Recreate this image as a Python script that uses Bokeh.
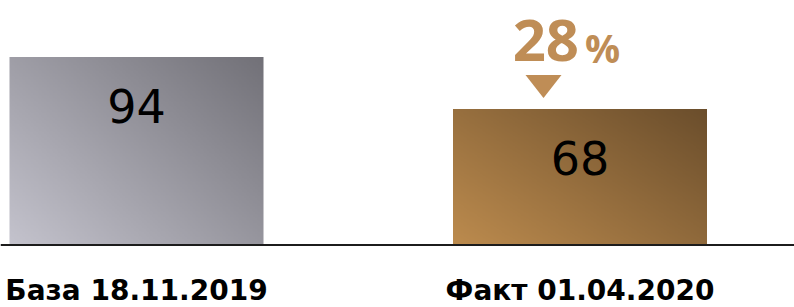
import numpy as np
from bokeh.plotting import figure
from bokeh.models import Range1d, Span
from bokeh.core.properties import value
from bokeh.embed import file_html
from bokeh.resources import INLINE

# ---- data ----
categories = ["База 18.11.2019", "Факт 01.04.2020"]
values = [94, 68]
positions = [0, 1]
change_pct = round((values[0] - values[1]) / values[0] * 100)  # 28 %

# ---- styling constants ----
W, H = 794, 307
PX_PER_CAT = 443.5     # horizontal pixels between bar centres
PX_PER_UNIT = 2.0      # vertical pixels per value unit
BASE_PX = 244.5        # baseline distance from top
FIRST_PX = 136         # first bar centre from left
BAR_W = 254 / PX_PER_CAT
GOLD = "#BF8D56"
grad_light = [(196, 195, 205), (188, 139, 78)]
grad_dark = [(114, 113, 120), (107, 78, 44)]

p = figure(width=W, height=H, output_backend="svg", toolbar_location=None,
           x_range=Range1d(-FIRST_PX / PX_PER_CAT, (W - FIRST_PX) / PX_PER_CAT),
           y_range=Range1d(-(H - BASE_PX) / PX_PER_UNIT, BASE_PX / PX_PER_UNIT),
           min_border=0, outline_line_color=None)
p.axis.visible = False
p.xgrid.visible = False
p.ygrid.visible = False
p.background_fill_color = "white"
p.border_fill_color = "white"

# ---- gradient bars ----
nx, ny = 160, 120
u = np.linspace(0, 1, nx)[None, :]
v = np.linspace(0, 1, ny)[:, None]
t = np.clip((u * 0.55 + v * 0.45), 0, 1)
for i, (xp, val) in enumerate(zip(positions, values)):
    lo, hi = np.array(grad_light[i]), np.array(grad_dark[i])
    rgb = lo[None, None, :] * (1 - t[..., None]) + hi[None, None, :] * t[..., None]
    img = np.empty((ny, nx), dtype=np.uint32)
    view = img.view(dtype=np.uint8).reshape((ny, nx, 4))
    view[..., 0] = rgb[..., 0].astype(np.uint8)
    view[..., 1] = rgb[..., 1].astype(np.uint8)
    view[..., 2] = rgb[..., 2].astype(np.uint8)
    view[..., 3] = 255
    p.image_rgba(image=[img], x=xp - BAR_W / 2, y=0, dw=BAR_W, dh=val)

# baseline
p.add_layout(Span(location=0, dimension="width", line_color="#1c1c1c", line_width=2))

# value labels
p.text(x=positions, y=values, text=[str(v_) for v_ in values],
       text_align="center", text_baseline="middle", y_offset=49,
       text_font=value("DejaVu Sans"), text_font_size="46px", text_color="black")

# category labels
p.text(x=positions, y=[0, 0], text=categories,
       text_align="center", text_baseline="middle", y_offset=45,
       text_font=value("DejaVu Sans"), text_font_size="28px", text_font_style="bold",
       text_color="black")

# change annotation on second bar
xb, vb = positions[1], values[1]
p.text(x=[xb], y=[vb], text=[str(change_pct)], text_align="right",
       text_baseline="middle", x_offset=-1, y_offset=-69,
       text_font=value("Open Sans"), text_font_size="58px", text_font_style="bold",
       text_color=GOLD)
p.text(x=[xb], y=[vb], text=["%"], text_align="left",
       text_baseline="middle", x_offset=5, y_offset=-62,
       text_font=value("Open Sans"), text_font_size="39px", text_font_style="bold",
       text_color=GOLD)

# down triangle
tri_cx = xb - 36.5 / PX_PER_CAT
tri_hw = 18 / PX_PER_CAT
p.patch(x=[tri_cx - tri_hw, tri_cx + tri_hw, tri_cx],
        y=[vb + 34 / PX_PER_UNIT, vb + 34 / PX_PER_UNIT, vb + 11 / PX_PER_UNIT],
        fill_color=GOLD, line_color=None)

open("out.html", "w").write(file_html(p, INLINE))
